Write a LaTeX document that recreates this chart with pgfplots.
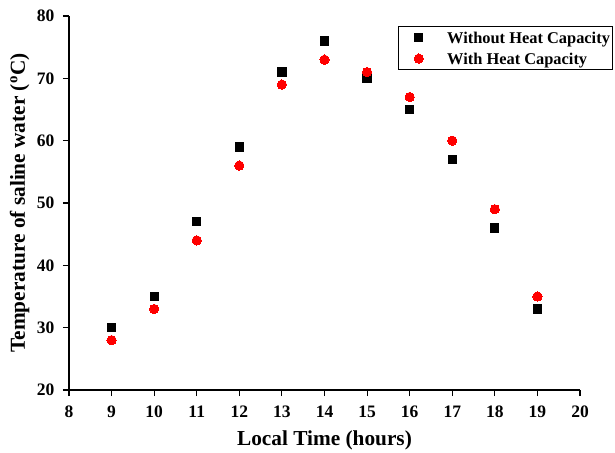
\documentclass[border=0pt]{standalone}
\usepackage{fontspec}
\setmainfont{Liberation Serif}
\usepackage{pgfplots}
\pgfplotsset{compat=1.18}
\pgfplotsset{mylegimg/.style={legend image code/.code={\draw[##1] plot coordinates {(0pt,0pt)}; \path (-20pt,0pt) (26pt,0pt);}}}
\begin{document}
\begin{tikzpicture}
\useasboundingbox (-69pt,-62pt) rectangle (546pt,390pt);
\begin{axis}[
  at={(0pt,0pt)}, anchor=south west,
  scale only axis, width=511pt, height=374pt,
  xmin=8, xmax=20, ymin=20, ymax=80,
  xtick={8,9,...,20}, ytick={20,30,...,80},
  axis x line*=bottom, axis y line*=left,
  axis line style={line width=1.1pt},
  every tick/.style={black, line width=1.1pt},
  tick align=outside, major tick length=6pt,
  /pgf/number format/assume math mode=true,
  tick label style={font=\fontsize{17.5}{19}\selectfont\bfseries},
  yticklabel style={xshift=-5pt},
  xticklabel style={yshift=-6pt},
  label style={font=\fontsize{21.3}{24}\selectfont\bfseries},
  xlabel={Local Time (hours)},
  ylabel={Temperature of saline water (\textsuperscript{o}C)},
  xlabel style={at={(axis description cs:0.5,-0.1497)}, anchor=base},
  ylabel style={at={(axis description cs:-0.0861,0.5)}, anchor=base},
  legend style={at={(0.6438,0.9733)}, anchor=north west, draw=black, line width=0.8pt,
    font=\fontsize{16.4}{18}\selectfont\bfseries, inner xsep=0pt, inner ysep=2pt,
    row sep=2.5pt, column sep=0pt,
    nodes={inner xsep=2pt, inner ysep=0pt, text height=15pt, text depth=3.5pt}},
  legend cell align=left,
]
\addplot[only marks, mark=square*, mark size=4.15pt, black, mark options={line width=0pt}, mylegimg] coordinates {
(9,30) (10,35) (11,47) (12,59) (13,71) (14,76) (15,70) (16,65) (17,57) (18,46) (19,33)};
\addlegendentry{Without Heat Capacity}
\addplot[only marks, mark=*, mark size=4.65pt, red, mark options={draw=red, fill=red, line width=0pt}, mylegimg] coordinates {
(9,28) (10,33) (11,44) (12,56) (13,69) (14,73) (15,71) (16,67) (17,60) (18,49) (19,35)};
\addlegendentry{With Heat Capacity}
\end{axis}
\end{tikzpicture}
\end{document}
